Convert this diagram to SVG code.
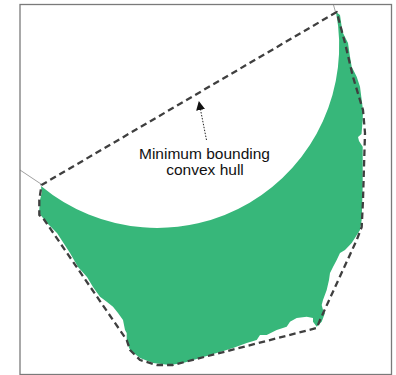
<svg xmlns="http://www.w3.org/2000/svg" width="396" height="375" viewBox="0 0 396 375">
<style>
.frame{fill:#fff;stroke:#7a7a7a;stroke-width:1.3}
.shape{fill:#37b77a;stroke:none}
.hull{fill:none;stroke:#3f3f3f;stroke-width:2.3;stroke-dasharray:6.5 4;stroke-linejoin:round}
.thin{fill:none;stroke:#777;stroke-width:0.7}
.pointer{fill:none;stroke:#222;stroke-width:1;stroke-dasharray:1.5 1.5}
.label{font-family:"Liberation Sans",Arial,sans-serif;font-size:15.5px;fill:#111;text-anchor:middle}
</style>
<defs>
<marker id="arrow" viewBox="0 0 10 10" refX="9" refY="5" markerWidth="9" markerHeight="9" markerUnits="userSpaceOnUse" orient="auto">
<path d="M0,0 L10,5 L0,10 Z" fill="#111"/>
</marker>
</defs>
<rect class="frame" x="20" y="4.5" width="371.5" height="370"/>
<g id="region">
<path class="shape" d="M41,186 A182 182 0 0 0 336,12 L340,15 L341.7,26.7 L343,33 L348,43 L350,56.7 L351.7,66.7 L356.7,76.7 L360,86.7 L361.7,100 L363,110 L362.7,120 L361.5,134 L358,137 L359,141 L362.7,146.7 L362.7,186.7 L361.7,220 L360,230 L351.7,243 L345,250 L340,253 L336.7,260 L333,267 L330,273 L329,280 L326.7,290 L323,300 L321.7,305 L323,310 L325,313 L321.7,321.7 L316.7,326.7 L313,321.7 L313,318 L306.7,316.7 L296.7,318 L290,321.7 L286.7,326.7 L276.7,330 L266.7,335 L260,335 L256.7,340 L246.7,343 L233,348 L216.7,353 L200,358 L183,363 L170,365 L153,363 L140,358 L130,350 L126.7,341.7 L126.7,333 L125,330 L123,320 L118,313 L113,306.7 L106.7,301.7 L100,296.7 L93,287 L87,277 L78,267 L70,253 L57,233 L47,223 L39,213 L40,200 L41.7,193 Z"/>
</g>
<g id="hull">
<path class="hull" d="M336.7,12 L41.5,185 L39.3,200 L39.3,215 L43,218 L126.7,340 L130,350 L140,360 L156.7,365 L173,365 L316.7,328 L320,320 L356.7,240 L361.7,227 L363,200 L365,133 L363,110 L353,77 L345,43 Z"/>
<path class="thin" d="M20,170 L41,184"/>
<path class="thin" d="M333.5,5 L335.5,12"/>
</g>
<g id="connectors">
<path class="pointer" d="M206.5,140 L199,102" marker-end="url(#arrow)"/>
</g>
<g id="label">
<text class="label" x="204.5" y="158.5">Minimum bounding</text>
<text class="label" x="205" y="175">convex hull</text>
</g>
</svg>
